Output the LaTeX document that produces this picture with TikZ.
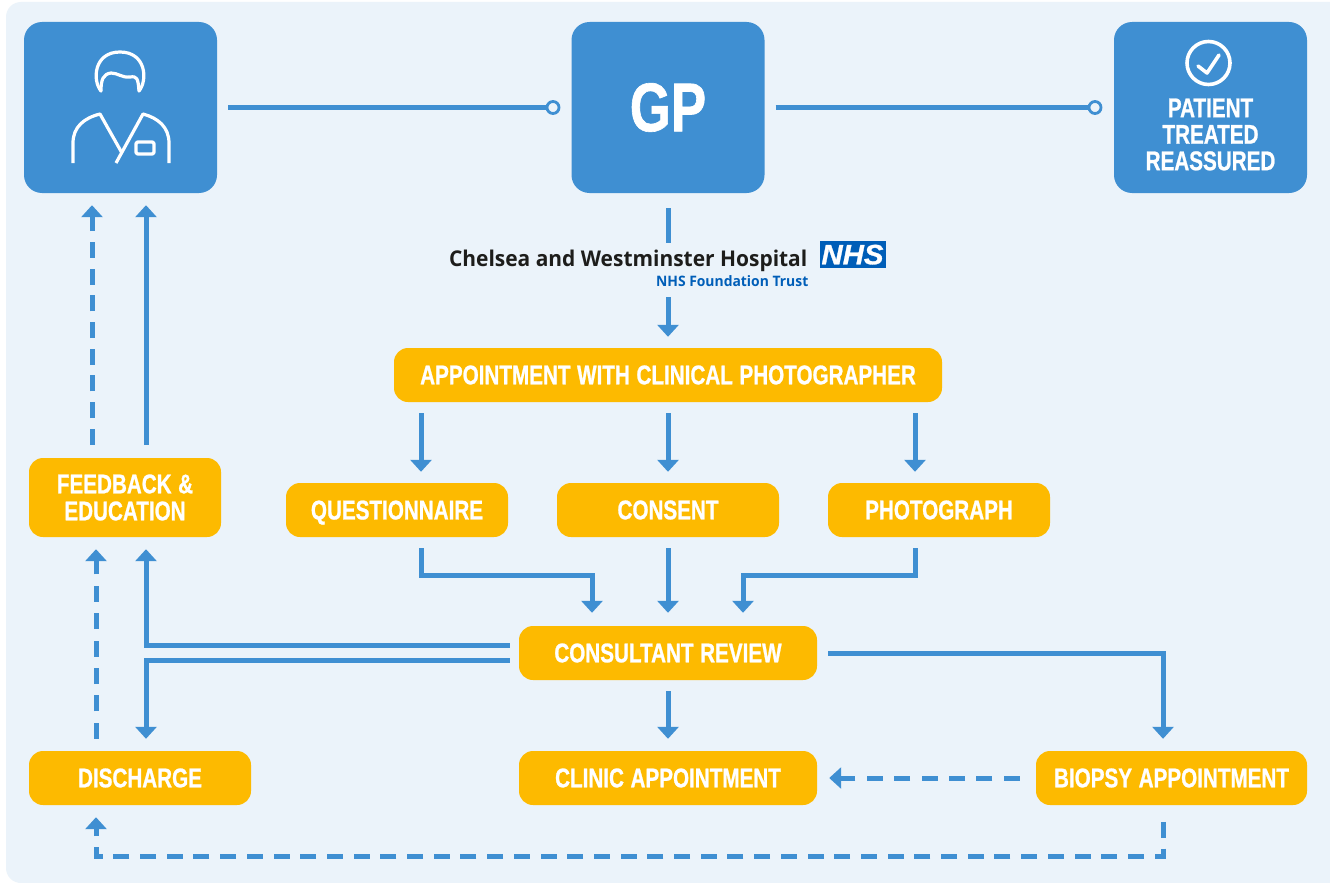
\documentclass[tikz,border=0pt]{standalone}
\usepackage{fontspec}
\usetikzlibrary{arrows.meta}
\newfontfamily\labelfont[FakeStretch=0.765,WordSpace=1.15,FakeBold=0.9]{Liberation Sans Bold}
\newfontfamily\logofont[FakeStretch=0.965]{Open Sans}
\newfontfamily\nhsfont[FakeStretch=1.05,FakeBold=1.0]{Liberation Sans Bold Italic}
\definecolor{bg1}{HTML}{EBF3FA}
\definecolor{b1}{HTML}{3F8FD2}
\definecolor{y1}{HTML}{FDBA00}
\definecolor{nhsb}{HTML}{005EB8}
\definecolor{txt1}{HTML}{1D1D1B}

\begin{document}
\begin{tikzpicture} [
    x=1pt, y=-1pt,
    f/.style={draw=b1,line width=5pt,-{Triangle[length=12pt,width=21pt]}},
    fd/.style={f,dash pattern=on 16pt off 11.4pt},
    fdd/.style={f,dash pattern=on 16pt off 10.7pt},
    l/.style={draw=b1,line width=5pt},
    ic/.style={draw=white,line width=3.2pt,line cap=round,line join=round},
    bluebox/.style={
        fill=b1, rounded corners=18pt, inner sep=0pt,
        minimum width=193pt, minimum height=171pt
    },
    yel/.style={
        fill=y1, rounded corners=14pt, inner sep=0pt,
        minimum width=222pt, minimum height=54pt,
        text=white, align=center,
        font=\labelfont\fontsize{27}{27}\selectfont
    },
    endc/.style={
        circle, draw=b1, fill=bg1, line width=2.8pt,
        inner sep=0pt, minimum size=12pt
    }
]

\useasboundingbox (0,0) rectangle (1330,883);
\fill [white] (0,0) rectangle (1330,883);
\fill [bg1,rounded corners=15pt] (6,2) rectangle (1345,883);
\fill [white] (1330,0) rectangle (1345,883);

% top row
\node [bluebox] (patient) at (120.5,107.5) {};
\node [bluebox] (gp) at (668,107.5) {};
\node [bluebox] (treated) at (1210.5,107.5) {};
\node [text=white,font=\labelfont\fontsize{69}{69}\selectfont] (gptext) at (gp.center) {GP};
\node [text=white,align=center,font=\labelfont\fontsize{27}{26.5}\selectfont] (treatedtext)
    at (1210.5,134.5) {PATIENT\\TREATED\\REASSURED};

\node [endc] (c1) at (553,107.5) {};
\node [endc] (c2) at (1095,107.5) {};

% logo
\node [anchor=base east,text=txt1,inner sep=0pt,font=\logofont\bfseries\fontsize{21.7}{21.7}\selectfont] (hosp)
    at (807.5,266) {Chelsea and Westminster Hospital};
\node [anchor=base east,text=nhsb,inner sep=0pt,font=\logofont\bfseries\fontsize{14.4}{14.4}\selectfont] (trust)
    at (808.5,286) {NHS Foundation Trust};
\node [fill=nhsb,text=white,inner sep=0pt,minimum width=66pt,minimum height=27pt,text depth=0pt,
    font=\nhsfont\fontsize{28}{28}\selectfont] (nhs) at (852.5,254.5) {NHS};
\coordinate (logotop) at (668,243);
\coordinate (logobot) at (668,297);

% yellow boxes
\node [yel,minimum width=548pt] (appt) at (668,375) {APPOINTMENT WITH CLINICAL PHOTOGRAPHER};
\node [yel,text depth=0pt] (quest) at (397,510) {QUESTIONNAIRE};
\node [yel] (consent) at (668,510) {CONSENT};
\node [yel] (photo) at (939,510) {PHOTOGRAPH};
\node [yel,minimum width=192pt,minimum height=79pt] (feedback) at (125,497.5) {FEEDBACK \&\\EDUCATION};
\node [yel,minimum width=298pt] (review) at (668,653) {CONSULTANT REVIEW};
\node [yel] (discharge) at (140,778) {DISCHARGE};
\node [yel,minimum width=298pt] (clinic) at (668,778) {CLINIC APPOINTMENT};
\node [yel,minimum width=271pt] (biopsy) at (1171.5,778) {BIOPSY APPOINTMENT};

% top line
\draw [l,shorten <=11pt] (patient.east |- c1) -- (c1);
\draw [l,shorten <=11pt] (gp.east |- c2) -- (c2);
\draw [l,shorten <=15pt] (gp.south) -- (logotop);
\draw [f,shorten >=11pt] (logobot) -- (appt.north);

\draw [f,shorten <=11pt,shorten >=11pt] ([xshift=24pt]quest.north |- appt.south) -- ([xshift=24pt]quest.north);
\draw [f,shorten <=11pt,shorten >=11pt] (appt.south) -- (consent.north);
\draw [f,shorten <=11pt,shorten >=11pt] ([xshift=-24pt]photo.north |- appt.south) -- ([xshift=-24pt]photo.north);

\draw [f,shorten <=11pt,shorten >=13pt] ([xshift=24pt]quest.south) -- ++(0,38) -| ([xshift=-76pt]review.north);
\draw [f,shorten <=11pt,shorten >=13pt] (consent.south) -- (review.north);
\draw [f,shorten <=11pt,shorten >=13pt] ([xshift=-24pt]photo.south) -- ++(0,38) -| ([xshift=75pt]review.north);

% review outputs
\draw [f,shorten <=9pt,shorten >=12pt] ([yshift=7.5pt]review.west) -| ([xshift=21pt]feedback.south);
\draw [f,shorten <=9pt,shorten >=12pt] ([yshift=-7pt]review.west) -| ([xshift=6pt]discharge.north);
\draw [f,shorten <=11pt,shorten >=12pt] (review.east) -| ([xshift=-8.5pt]biopsy.north);
\draw [f,shorten <=11pt,shorten >=12pt] (review.south) -- (clinic.north);
\draw [fd,shorten <=16pt,shorten >=12pt] (biopsy.west) -- (clinic.east);

% back to patient
\draw [fd,shorten <=12pt,shorten >=12pt] ([xshift=-44pt]discharge.north) -- ([xshift=-29pt]feedback.south);
\draw [f,shorten <=13pt,shorten >=12pt] ([xshift=21pt]feedback.north) -- ([xshift=25.5pt]patient.south);
\draw [fdd,shorten <=13pt,shorten >=12pt] ([xshift=-33pt]feedback.north) -- ([xshift=-28.5pt]patient.south);
\draw [fdd,dash phase=22pt,shorten <=12pt,shorten >=12pt] ([xshift=-8.5pt]biopsy.south) -- ++(0,51) -| ([xshift=-44pt]discharge.south);

% patient icon
\draw [ic] (101,91) .. controls (92,80) and (94,52) .. (120,52)
    .. controls (146,52) and (148,80) .. (139,91);
\draw [ic] (101,91) .. controls (101,80) and (103,74) .. (111,73)
    .. controls (118,73) and (122,78) .. (130,77) .. controls (137,76) and (138,78) .. (139,91);
\draw [ic,line cap=butt] (73,163) -- (73,143) .. controls (73,127) and (84,118) .. (100,114) -- (122,153);
\draw [ic,line cap=butt] (116,163) -- (143,114) .. controls (158,118) and (169,127) .. (169,143) -- (169,163);
\draw [ic,rounded corners=1.5pt] (136,142) rectangle (154,154);

% check icon
\draw [ic,line width=3.6pt] (1208.5,63) circle (21.5);
\draw [ic,line width=3.6pt] (1198,66) -- (1207,73) -- (1219,55);

\end{tikzpicture}
\end{document}
